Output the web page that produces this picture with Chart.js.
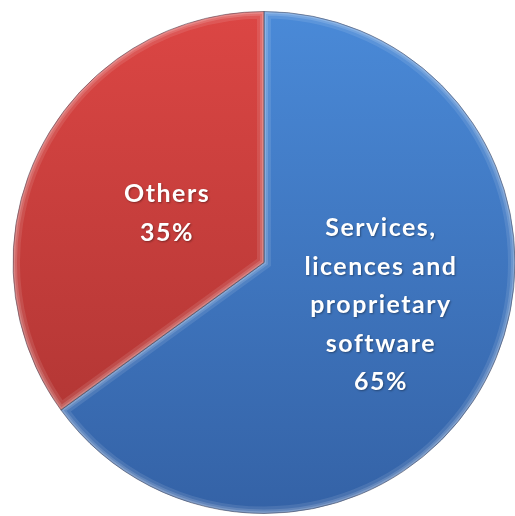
<!DOCTYPE html>
<html>
<head>
<meta charset="utf-8">
<script src="https://cdn.jsdelivr.net/npm/chart.js@4/dist/chart.umd.min.js"></script>
<style>
  html, body { margin: 0; padding: 0; background: #ffffff; }
  #wrap { width: 515px; height: 516px; position: relative; }
</style>
</head>
<body>
<div id="wrap"><canvas id="c"></canvas></div>
<script>
// Share of spending
const categories = ['Services, licences and proprietary software', 'Others'];
const labelLines = [['Services,', 'licences and', 'proprietary', 'software'], ['Others']];
const shares = [65, 35];

// Label block centre, as fractions of the radius from the pie centre
const labelAnchor = [[0.466, 0.171], [-0.386, -0.195]];

const topColors = ['#4a8ad8', '#dc4644'];
const bottomColors = ['#3462a6', '#a93331'];

function sliceFill(ctx) {
  const chart = ctx.chart;
  const area = chart.chartArea;
  if (!area) return topColors[ctx.dataIndex];
  const g = chart.ctx.createLinearGradient(0, area.top, 0, area.bottom);
  g.addColorStop(0, topColors[ctx.dataIndex]);
  g.addColorStop(1, bottomColors[ctx.dataIndex]);
  return g;
}

function slicePath(ctx, p) {
  ctx.beginPath();
  ctx.moveTo(p.x, p.y);
  ctx.arc(p.x, p.y, p.outerRadius, p.startAngle, p.endAngle);
  ctx.closePath();
}

// Soft bevel along each slice's outline
const bevel = {
  id: 'bevel',
  afterDatasetsDraw(chart) {
    const ctx = chart.ctx;
    chart.getDatasetMeta(0).data.forEach((arc) => {
      const p = arc.getProps(['x', 'y', 'startAngle', 'endAngle', 'outerRadius'], true);
      ctx.save();
      slicePath(ctx, p);
      ctx.clip();
      const widths = [7, 4, 2];
      const alphas = [0.10, 0.14, 0.18];
      widths.forEach((w, k) => {
        ctx.lineWidth = w * 2;
        ctx.strokeStyle = 'rgba(255,255,255,' + alphas[k] + ')';
        slicePath(ctx, p);
        ctx.stroke();
      });
      ctx.restore();
      ctx.save();
      ctx.lineWidth = 1;
      ctx.strokeStyle = 'rgba(40,40,60,0.45)';
      slicePath(ctx, p);
      ctx.stroke();
      ctx.restore();
    });
  }
};

// Category name and share written inside each slice
const sliceLabels = {
  id: 'sliceLabels',
  afterDraw(chart) {
    const ctx = chart.ctx;
    const data = chart.data.datasets[0].data;
    const total = data.reduce((a, b) => a + b, 0);
    chart.getDatasetMeta(0).data.forEach((arc, i) => {
      const p = arc.getProps(['x', 'y', 'outerRadius'], true);
      const cx = p.x + labelAnchor[i][0] * p.outerRadius;
      const cy = p.y + labelAnchor[i][1] * p.outerRadius;
      const lines = labelLines[i].concat([Math.round(data[i] / total * 100) + '%']);
      const lh = 38.5;
      ctx.save();
      ctx.font = 'bold 25px Lato, "Open Sans", sans-serif';
      ctx.letterSpacing = '1.5px';
      ctx.fillStyle = '#ffffff';
      ctx.textAlign = 'center';
      ctx.textBaseline = 'middle';
      ctx.shadowColor = 'rgba(0,0,0,0.35)';
      ctx.shadowBlur = 2;
      ctx.shadowOffsetX = 1;
      ctx.shadowOffsetY = 1;
      const y0 = cy - (lines.length - 1) * lh / 2;
      lines.forEach((t, k) => ctx.fillText(t, cx, y0 + k * lh));
      ctx.restore();
    });
  }
};

new Chart(document.getElementById('c'), {
  type: 'pie',
  data: {
    labels: categories,
    datasets: [{
      data: shares,
      backgroundColor: sliceFill,
      borderWidth: 0
    }]
  },
  options: {
    responsive: true,
    maintainAspectRatio: false,
    animation: false,
    layout: { padding: { left: 13, right: 0, top: 9, bottom: 0 } },
    plugins: {
      legend: { display: false },
      tooltip: { enabled: false }
    }
  },
  plugins: [bevel, sliceLabels]
});
</script>
</body>
</html>
